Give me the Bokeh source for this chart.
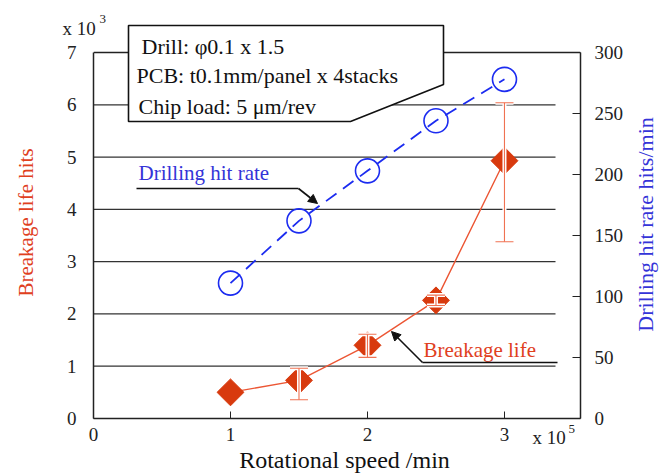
import math
from bokeh.plotting import figure
from bokeh.models import (Range1d, LinearAxis, FixedTicker, Label, PolyAnnotation,
                          Arrow, NormalHead, Whisker, TeeHead, ColumnDataSource)
from bokeh.embed import file_html
from bokeh.resources import INLINE

# ---- data ----
speed = [1.0, 1.5, 2.0, 2.5, 3.0]                 # x 10^5 /min
life = [0.50, 0.73, 1.40, 2.26, 4.93]             # x 10^3 hits
life_lo = [None, 0.36, 1.17, 2.16, 3.38]
life_hi = [None, 0.96, 1.61, 2.36, 6.04]
hit_rate = [111, 162, 203, 244, 278]              # hits/min
x_ticks = [0, 1, 2, 3]
left_ticks = [0, 1, 2, 3, 4, 5, 6, 7]
right_ticks = [0, 50, 100, 150, 200, 250, 300]
grid_levels = [1, 2, 3, 4, 5, 6]
LEFT_MAX = 7
RIGHT_MAX = 300

FONT = "Liberation Serif"
RED_TXT = "#e0401e"
BLUE_TXT = "#3434d8"
BLUE = "#1c2cf0"
DIAMOND = "#d83a0e"
LINE_RED = "#ec5634"
INK = "#222222"

# page-pixel helpers for annotation placement (axes box: x 93..580, y 52..418)
XMAX = 3.555
def X(px):
    return (px - 93) / 487 * XMAX
def Y(py):
    return (418 - py) / 366 * LEFT_MAX

# frame reaches the top of the canvas so the condition box is not clipped
p = figure(frame_width=487, frame_height=418,
           x_range=Range1d(0, XMAX), y_range=Range1d(0, Y(0)),
           output_backend="svg", toolbar_location=None,
           min_border_left=93, min_border_right=85, min_border_top=0, min_border_bottom=56)
p.title.visible = False
p.xgrid.visible = False
p.ygrid.visible = False
p.outline_line_color = None
p.background_fill_color = "white"
p.border_fill_color = "white"

# left axis
ya = p.yaxis[0]
ya.bounds = (0, LEFT_MAX)
ya.ticker = FixedTicker(ticks=left_ticks)
ya.major_tick_in = 0
ya.major_tick_out = 0
ya.minor_tick_in = 0
ya.minor_tick_out = 0
ya.major_label_standoff = 17

# bottom axis
xa = p.xaxis[0]
xa.ticker = FixedTicker(ticks=x_ticks)
xa.major_tick_in = 7
xa.major_tick_out = 0
xa.minor_tick_in = 0
xa.minor_tick_out = 0
xa.major_label_standoff = 9

# right axis
p.extra_y_ranges = {"rate": Range1d(0, RIGHT_MAX * Y(0) / LEFT_MAX)}
ra = LinearAxis(y_range_name="rate", ticker=FixedTicker(ticks=right_ticks), bounds=(0, RIGHT_MAX))
ra.major_tick_in = 8
ra.major_tick_out = 0
ra.minor_tick_in = 0
ra.minor_tick_out = 0
ra.major_label_standoff = 14
p.add_layout(ra, "right")

for ax in (ya, xa, ra):
    ax.axis_line_color = INK
    ax.axis_line_width = 1.5
    ax.major_tick_line_color = INK
    ax.major_label_text_font = FONT
    ax.major_label_text_font_size = "19px"
    ax.major_label_text_color = INK

# top border of the axes box
p.segment(x0=[0], x1=[XMAX], y0=[LEFT_MAX], y1=[LEFT_MAX], line_color=INK, line_width=1.5)
# horizontal grid lines (stop short of right axis)
p.segment(x0=[0] * len(grid_levels), x1=[X(555)] * len(grid_levels),
          y0=grid_levels, y1=grid_levels, line_color="#333333", line_width=1.3)

# drilling hit rate (right axis)
p.line(speed, hit_rate, y_range_name="rate", line_color=BLUE, line_width=1.8, line_dash="13 8")
p.scatter(speed, hit_rate, y_range_name="rate", marker="circle", size=24,
          fill_color=None, line_color=BLUE, line_width=1.6)

# breakage life (left axis)
p.line(speed, life, line_color=LINE_RED, line_width=1.4)
p.scatter(speed, life, marker="square", angle=math.pi / 4, size=19,
          fill_color=DIAMOND, line_color=DIAMOND)

idx = [i for i in range(len(speed)) if life_lo[i] is not None]
err_src = ColumnDataSource(dict(x=[speed[i] for i in idx],
                                lo=[life_lo[i] for i in idx],
                                hi=[life_hi[i] for i in idx]))
p.add_layout(Whisker(source=err_src, base="x", lower="lo", upper="hi", level="annotation",
                     line_color="white", line_width=4,
                     lower_head=TeeHead(size=18, line_color="white", line_width=4),
                     upper_head=TeeHead(size=18, line_color="white", line_width=4)))
p.add_layout(Whisker(source=err_src, base="x", lower="lo", upper="hi", level="annotation",
                     line_color="#f07252", line_width=1.1,
                     lower_head=TeeHead(size=18, line_color="#f07252", line_width=1.1),
                     upper_head=TeeHead(size=18, line_color="#f07252", line_width=1.1)))

# condition box
p.add_layout(PolyAnnotation(xs=[X(128), X(443), X(443), X(350), X(128)],
                            ys=[Y(25), Y(25), Y(84), Y(121), Y(121)],
                            xs_units="data", ys_units="data",
                            fill_color="white", fill_alpha=1.0,
                            line_color="#111111", line_alpha=1.0, line_width=1.6))
box_lines = ["Drill: \u03c60.1 x 1.5", "PCB: t0.1mm/panel x 4stacks", "Chip load: 5 \u03bcm/rev"]
box_pos = [(141, 46), (136, 75), (138, 106)]
for t, (bx, by) in zip(box_lines, box_pos):
    p.add_layout(Label(x=X(bx), y=Y(by), text=t, text_font=FONT, text_font_size="22px",
                       text_color="#111111", text_align="left", text_baseline="middle"))
p.add_layout(Label(x=X(99), y=Y(18), text="3", text_font=FONT, text_font_size="13px",
                   text_color=INK, text_baseline="middle"))

# series callouts
p.add_layout(Label(x=X(138), y=Y(172), text="Drilling hit rate", text_font=FONT,
                   text_font_size="21px", text_color=BLUE_TXT, text_baseline="middle"))
p.add_layout(Arrow(x_start=X(136), y_start=Y(188), x_end=X(298), y_end=Y(188),
                   end=None, line_color="#111111", line_width=1.6))
p.add_layout(Arrow(x_start=X(298), y_start=Y(188), x_end=X(317), y_end=Y(203),
                   end=NormalHead(size=9, fill_color="#111111", line_color="#111111"),
                   line_color="#111111", line_width=1.6))

p.add_layout(Label(x=X(423), y=Y(349), text="Breakage life", text_font=FONT,
                   text_font_size="21px", text_color=RED_TXT, text_baseline="middle"))
p.add_layout(Arrow(x_start=X(422), y_start=Y(362), x_end=X(557), y_end=Y(362),
                   end=None, line_color="#111111", line_width=1.6))
p.add_layout(Arrow(x_start=X(422), y_start=Y(362), x_end=X(391), y_end=Y(331),
                   end=NormalHead(size=9, fill_color="#111111", line_color="#111111"),
                   line_color="#111111", line_width=1.6))

# axis titles and multipliers outside the frame (side panels are not clipped)
p.add_layout(Label(x=X(25), y=Y(222), text="Breakage life hits", angle=math.pi / 2,
                   text_font=FONT, text_font_size="21px", text_color=RED_TXT,
                   text_align="center", text_baseline="middle"), "left")
p.add_layout(Label(x=X(62), y=Y(28), text="x 10", text_font=FONT, text_font_size="19px",
                   text_color=INK, text_baseline="middle"), "left")
p.add_layout(Label(x=X(645), y=Y(224), text="Drilling hit rate hits/min", angle=math.pi / 2,
                   text_font=FONT, text_font_size="22px", text_color=BLUE_TXT,
                   text_align="center", text_baseline="middle"), "right")
p.add_layout(Label(x=X(344), y=Y(459), text="Rotational speed /min",
                   text_font=FONT, text_font_size="24px", text_color="#111111",
                   text_align="center", text_baseline="middle"), "below")
p.add_layout(Label(x=X(532), y=Y(437), text="x 10", text_font=FONT, text_font_size="19px",
                   text_color=INK, text_baseline="middle"), "below")
p.add_layout(Label(x=X(568), y=Y(428), text="5", text_font=FONT, text_font_size="13px",
                   text_color=INK, text_baseline="middle"), "below")

open("out.html", "w").write(file_html(p, INLINE))
